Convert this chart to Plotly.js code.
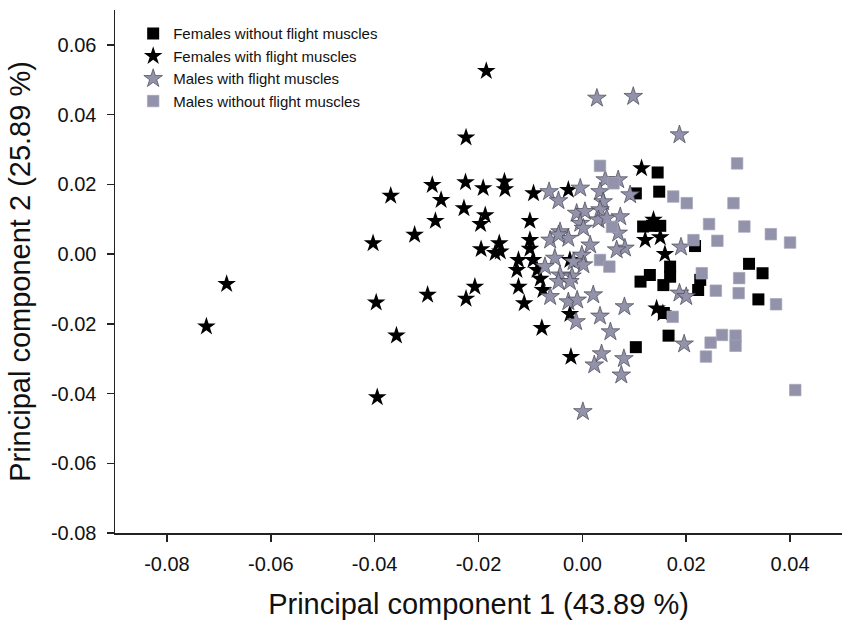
<!DOCTYPE html>
<html>
<head>
<meta charset="utf-8">
<script src="https://cdn.plot.ly/plotly-3.0.1.min.js"></script>
<style>
  html, body { margin: 0; padding: 0; background: #fff; }
  #plot { width: 851px; height: 634px; }
</style>
</head>
<body>
<div id="plot"></div>
<script>
// PCA scores
const fwoX = [0.0145, 0.0103, 0.0148, 0.0117, 0.0134, 0.0150, 0.0217, 0.0169, 0.0169, 0.0130, 0.0112, 0.0156, 0.0227, 0.0223, 0.0321, 0.0347, 0.0339, 0.0157, 0.0103, 0.0166];
const fwoY = [0.0234, 0.0174, 0.0179, 0.0079, 0.0081, 0.0081, 0.0023, -0.0036, -0.0065, -0.0060, -0.0079, -0.0089, -0.0074, -0.0103, -0.0028, -0.0055, -0.0130, -0.0169, -0.0267, -0.0234];

const fwX = [-0.0724, -0.0685, -0.0403, -0.0397, -0.0358, -0.0395, -0.0369, -0.0289, -0.0272, -0.0225, -0.0191, -0.0150, -0.0149, -0.0228, -0.0187, -0.0196, -0.0283, -0.0323, -0.0195, -0.0160, -0.0158, -0.0168, -0.0298, -0.0207, -0.0224, -0.0224, -0.0185, -0.0094, -0.0027, -0.0101, -0.0101, -0.0101, -0.0123, -0.0095, -0.0126, -0.0087, -0.0081, -0.0123, -0.0076, -0.0112, -0.0078, -0.0024, -0.0024, -0.0022, 0.0114, 0.0137, 0.0121, 0.0150, 0.0159, 0.0143, 0.0155];
const fwY = [-0.0208, -0.0086, 0.0031, -0.0139, -0.0234, -0.0411, 0.0167, 0.0198, 0.0155, 0.0206, 0.0189, 0.0208, 0.0186, 0.0131, 0.0111, 0.0086, 0.0095, 0.0055, 0.0014, 0.0031, 0.0007, 0.0003, -0.0117, -0.0094, -0.0128, 0.0334, 0.0525, 0.0174, 0.0184, 0.0095, 0.0040, 0.0015, -0.0017, -0.0017, -0.0046, -0.0046, -0.0071, -0.0094, -0.0103, -0.0141, -0.0212, -0.0017, -0.0172, -0.0295, 0.0246, 0.0098, 0.0040, 0.0048, 0.0000, -0.0156, -0.0170];

const mwX = [0.0028, 0.0098, 0.0187, -0.0064, -0.0046, -0.0004, 0.0044, 0.0069, 0.0034, 0.0040, 0.0092, 0.0034, -0.0011, 0.0005, -0.0004, 0.0002, 0.0031, 0.0047, 0.0073, -0.0043, -0.0027, -0.0062, 0.0015, 0.0069, 0.0082, 0.0066, -0.0053, -0.0001, 0.0002, -0.0017, -0.0072, -0.0043, -0.0020, 0.0190, 0.0187, 0.0200, 0.0081, -0.0046, -0.0024, -0.0062, -0.0027, -0.0010, 0.0021, -0.0012, 0.0034, 0.0054, 0.0037, 0.0023, 0.0080, 0.0075, 0.0001, 0.0196, -0.0046];
const mwY = [0.0447, 0.0452, 0.0342, 0.0179, 0.0153, 0.0189, 0.0213, 0.0213, 0.0179, 0.0150, 0.0170, 0.0127, 0.0117, 0.0122, 0.0088, 0.0074, 0.0098, 0.0103, 0.0107, 0.0064, 0.0045, 0.0040, 0.0026, 0.0060, 0.0017, 0.0012, -0.0012, -0.0003, -0.0031, -0.0022, -0.0036, -0.0060, -0.0063, 0.0020, -0.0112, -0.0122, -0.0151, -0.0079, -0.0079, -0.0122, -0.0137, -0.0132, -0.0117, -0.0194, -0.0178, -0.0223, -0.0286, -0.0318, -0.0300, -0.0347, -0.0452, -0.0258, 0.0055];

const mwoX = [0.0034, 0.0060, 0.0057, 0.0034, 0.0052, 0.0175, 0.0201, 0.0298, 0.0291, 0.0244, 0.0312, 0.0260, 0.0214, 0.0363, 0.0400, 0.0230, 0.0302, 0.0257, 0.0301, 0.0373, 0.0174, 0.0238, 0.0247, 0.0269, 0.0295, 0.0295, 0.0410];
const mwoY = [0.0253, 0.0203, 0.0078, -0.0017, -0.0036, 0.0165, 0.0146, 0.0260, 0.0146, 0.0086, 0.0079, 0.0038, 0.0040, 0.0057, 0.0033, -0.0055, -0.0069, -0.0105, -0.0112, -0.0144, -0.0180, -0.0294, -0.0254, -0.0232, -0.0234, -0.0263, -0.0390];

const groupNames = ['Females without flight muscles', 'Females with flight muscles', 'Males with flight muscles', 'Males without flight muscles'];

const xTickVals = [-0.08, -0.06, -0.04, -0.02, 0, 0.02, 0.04];
const xTickText = ['-0.08', '-0.06', '-0.04', '-0.02', '0.00', '0.02', '0.04'];
const yTickVals = [-0.08, -0.06, -0.04, -0.02, 0, 0.02, 0.04, 0.06];
const yTickText = ['-0.08', '-0.06', '-0.04', '-0.02', '0.00', '0.02', '0.04', '0.06'];

const FONT = '"Liberation Sans", Arial, sans-serif';
const GREY = 'rgb(146,146,170)';

function pts(x, y, name, symbol, size, color, lineColor, lineWidth) {
    return {
        x: x, y: y, name: name, type: 'scatter', mode: 'markers',
        marker: { symbol: symbol, size: size, color: color, line: { color: lineColor, width: lineWidth } }
    };
}

let traces = [
    pts(fwoX, fwoY, groupNames[0], 'square', 12, '#000', '#000', 0),
    pts(fwX, fwY, groupNames[1], 'star', 14, '#000', '#000', 0),
    pts(mwX, mwY, groupNames[2], 'star', 14, GREY, 'rgb(70,70,85)', 0.7),
    pts(mwoX, mwoY, groupNames[3], 'square', 11.5, GREY, 'rgb(165,165,185)', 0.7)
];

let axisCommon = {
    showgrid: false, zeroline: false, showline: true,
    linecolor: '#222', linewidth: 1.5,
    ticks: 'outside', ticklen: 7, tickwidth: 1.5, tickcolor: '#222',
    tickmode: 'array',
    tickfont: { family: FONT, size: 20, color: '#111' }
};

let layout = {
    width: 851, height: 634,
    paper_bgcolor: '#fff', plot_bgcolor: '#fff',
    margin: { l: 115, r: 9, t: 10, b: 101 },
    font: { family: FONT, color: '#111' },
    showlegend: true,
    legend: {
        x: 0.025, y: 0.986, xanchor: 'left', yanchor: 'top',
        bgcolor: 'rgba(0,0,0,0)', borderwidth: 0,
        font: { family: FONT, size: 15, color: '#111' }
    },
    xaxis: Object.assign({}, axisCommon, {
        range: [-0.09, 0.05], tickvals: xTickVals, ticktext: xTickText,
        ticklabelstandoff: 5,
        title: { text: 'Principal component 1 (43.89 %)', font: { family: FONT, size: 29, color: '#111' }, standoff: 20 }
    }),
    yaxis: Object.assign({}, axisCommon, {
        range: [-0.08, 0.07], tickvals: yTickVals, ticktext: yTickText,
        ticklabelstandoff: 6,
        title: { text: 'Principal component 2 (25.89 %)', font: { family: FONT, size: 29, color: '#111' }, standoff: 12 }
    })
};

Plotly.newPlot('plot', traces, layout, { displayModeBar: false, staticPlot: true });
</script>
</body>
</html>
